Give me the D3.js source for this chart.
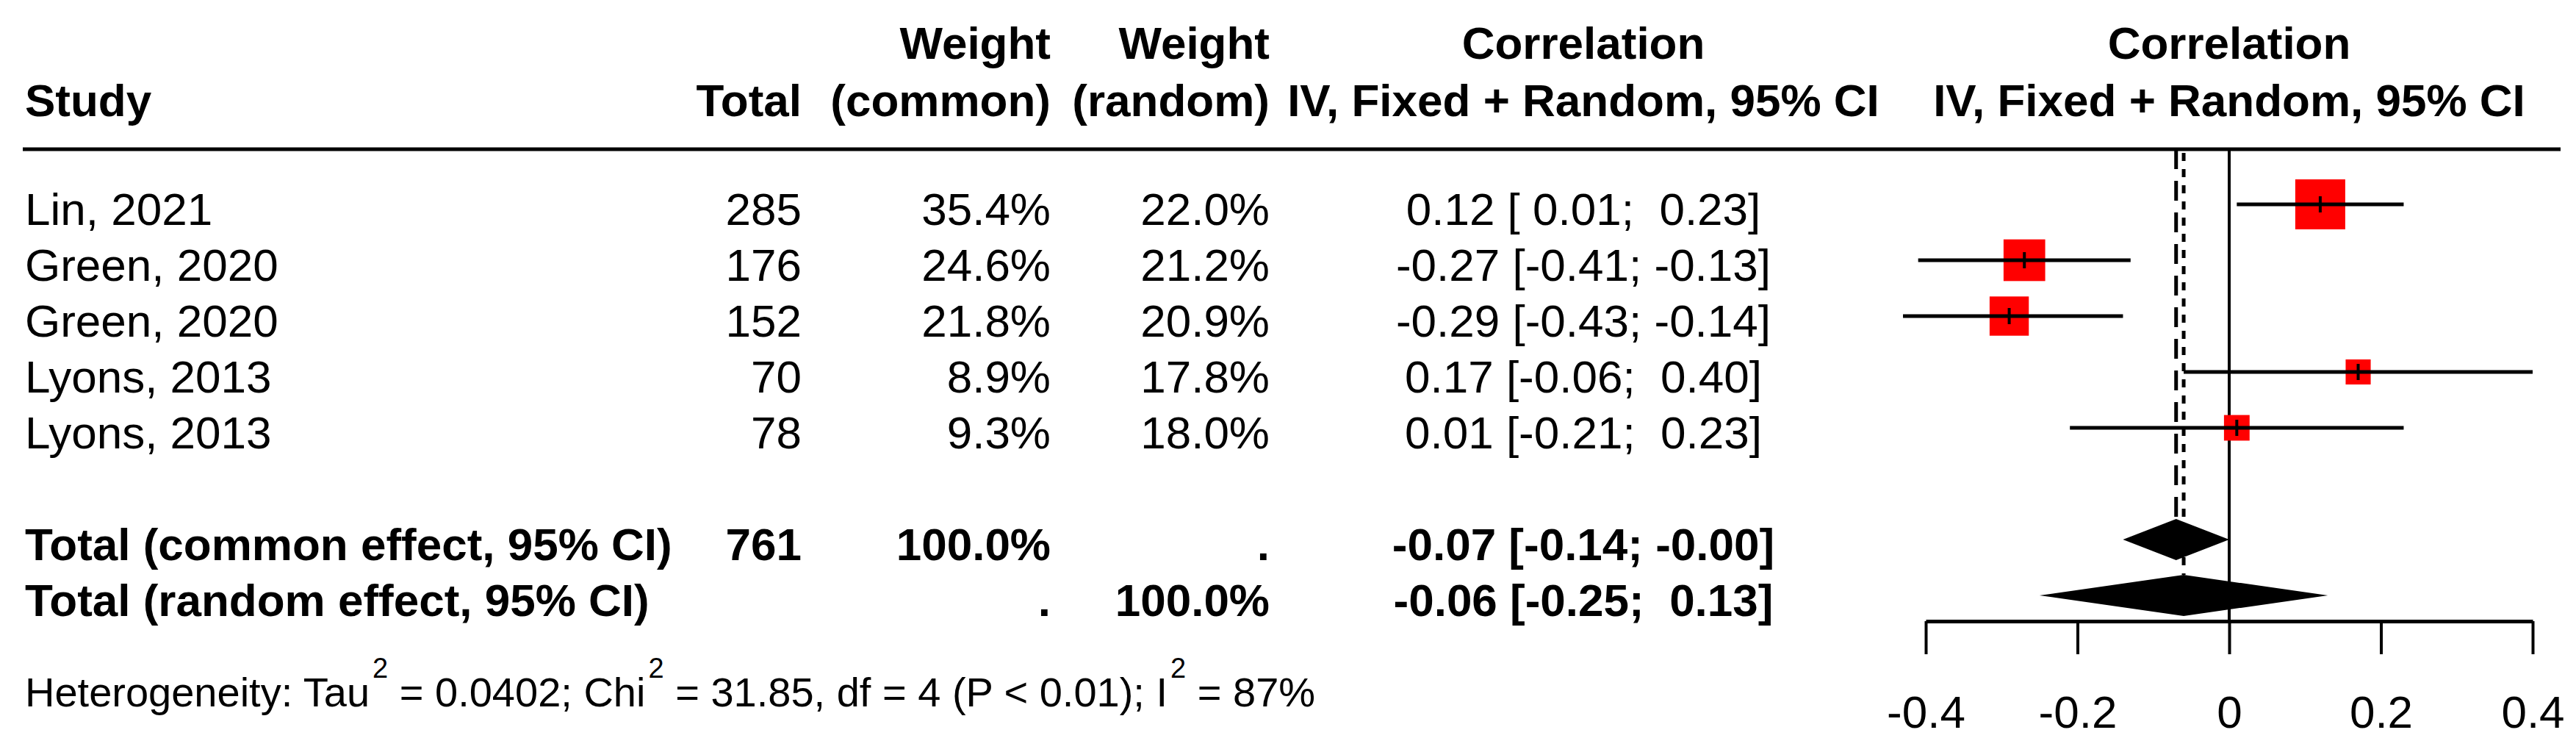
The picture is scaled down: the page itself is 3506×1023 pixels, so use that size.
<!DOCTYPE html>
<html>
<head>
<meta charset="utf-8">
<script src="https://cdn.jsdelivr.net/npm/d3@7"></script>
<style>
  html, body { margin: 0; padding: 0; background: #fff; }
  svg text { font-family: "Liberation Sans", Arial, sans-serif; white-space: pre; fill: #000; }
</style>
</head>
<body>
<div id="chart"></div>
<script>
// forest plot: correlation, common + random effects

const studies = ['Lin, 2021', 'Green, 2020', 'Green, 2020', 'Lyons, 2013', 'Lyons, 2013'];
const totals = [285, 176, 152, 70, 78];
const weightCommon = [35.4, 24.6, 21.8, 8.9, 9.3];
const weightRandom = [22.0, 21.2, 20.9, 17.8, 18.0];
const estimates = [0.12, -0.27, -0.29, 0.17, 0.01];
const lowers = [0.01, -0.41, -0.43, -0.06, -0.21];
const uppers = [0.23, -0.13, -0.14, 0.40, 0.23];

const summaryLabels = ['Total (common effect, 95% CI)', 'Total (random effect, 95% CI)'];
const summaryTotals = ['761', ''];
const summaryWCommon = ['100.0%', '.'];
const summaryWRandom = ['.', '100.0%'];
const summaryEst = [-0.07, -0.06];
const summaryLower = [-0.14, -0.25];
const summaryUpper = [-0.00, 0.13];

const tickValues = [-0.4, -0.2, 0, 0.2, 0.4];
const hetero = { tau2: '0.0402', chi2: '31.85', df: 4, p: '< 0.01', i2: '87%' };

const W = 3506, H = 1023;
const FS = 62;

const svg = d3.select('#chart').append('svg')
  .attr('width', W).attr('height', H)
  .attr('viewBox', `0 0 ${W} ${H}`);
svg.append('rect').attr('width', W).attr('height', H).attr('fill', '#fff');

// columns
const col = { study: 34, total: 1091, wCommon: 1430, wRandom: 1728, corr: 2155 };

const x = d3.scaleLinear().domain([-0.4, 0.4]).range([2621, 3447]);
// row index -> row centre (0..4 studies, 6 common, 7 random)
const y = d3.scaleLinear().domain([0, 7]).range([278, 810]);
const side = d3.scaleSqrt().domain([0, 35.4]).range([0, 68]);

const fmtBound = (v) => ((v < 0 || Object.is(v, -0)) ? '-' : ' ') + Math.abs(v).toFixed(2);
const ciText = (e, lo, hi) => `${e.toFixed(2)} [${fmtBound(lo)}; ${fmtBound(hi)}]`;

function txt(xp, yp, s, anchor, bold, size) {
  return svg.append('text')
    .attr('x', xp).attr('y', yp)
    .attr('text-anchor', anchor || 'start')
    .attr('font-size', size || FS)
    .attr('font-weight', bold ? 'bold' : 'normal')
    .text(s);
}

// header
const h1 = 80, h2 = 158;
txt(col.study, h2, 'Study', 'start', true);
txt(col.total, h2, 'Total', 'end', true);
txt(col.wCommon, h1, 'Weight', 'end', true);
txt(col.wCommon, h2, '(common)', 'end', true);
txt(col.wRandom, h1, 'Weight', 'end', true);
txt(col.wRandom, h2, '(random)', 'end', true);
txt(col.corr, h1, 'Correlation', 'middle', true);
txt(col.corr, h2, 'IV, Fixed + Random, 95% CI', 'middle', true);
txt(x(0), h1, 'Correlation', 'middle', true);
txt(x(0), h2, 'IV, Fixed + Random, 95% CI', 'middle', true);

const ruleY = 203;
svg.append('line')
  .attr('x1', 31).attr('x2', 3485).attr('y1', ruleY).attr('y2', ruleY)
  .attr('stroke', '#000').attr('stroke-width', 5);

const axisY = 845;

// reference lines
svg.append('line')
  .attr('x1', x(0)).attr('x2', x(0)).attr('y1', ruleY).attr('y2', axisY)
  .attr('stroke', '#000').attr('stroke-width', 4);

const diamondHalf = 28;
svg.append('line')
  .attr('x1', x(summaryEst[0])).attr('x2', x(summaryEst[0]))
  .attr('y1', ruleY).attr('y2', y(6) - diamondHalf)
  .attr('stroke', '#000').attr('stroke-width', 5)
  .attr('stroke-dasharray', '27 16');
svg.append('line')
  .attr('x1', x(summaryEst[1])).attr('x2', x(summaryEst[1]))
  .attr('y1', ruleY + 5).attr('y2', y(7) - diamondHalf)
  .attr('stroke', '#000').attr('stroke-width', 5)
  .attr('stroke-dasharray', '11 11');

// study rows
const base = 28;
studies.forEach((s, i) => {
  const cy = y(i);
  txt(col.study, cy + base, s, 'start');
  txt(col.total, cy + base, String(totals[i]), 'end');
  txt(col.wCommon, cy + base, weightCommon[i].toFixed(1) + '%', 'end');
  txt(col.wRandom, cy + base, weightRandom[i].toFixed(1) + '%', 'end');
  txt(col.corr, cy + base, ciText(estimates[i], lowers[i], uppers[i]), 'middle');

  const sz = side(weightCommon[i]);
  svg.append('rect')
    .attr('x', x(estimates[i]) - sz / 2).attr('y', cy - sz / 2)
    .attr('width', sz).attr('height', sz)
    .attr('fill', '#ff0000');
  svg.append('line')
    .attr('x1', x(lowers[i])).attr('x2', x(uppers[i]))
    .attr('y1', cy).attr('y2', cy)
    .attr('stroke', '#000').attr('stroke-width', 5);
  svg.append('line')
    .attr('x1', x(estimates[i])).attr('x2', x(estimates[i]))
    .attr('y1', cy - 11).attr('y2', cy + 11)
    .attr('stroke', '#000').attr('stroke-width', 4);
});

// summary rows
summaryLabels.forEach((s, j) => {
  const cy = y(6 + j);
  txt(col.study, cy + base, s, 'start', true);
  txt(col.total, cy + base, summaryTotals[j], 'end', true);
  txt(col.wCommon, cy + base, summaryWCommon[j], 'end', true);
  txt(col.wRandom, cy + base, summaryWRandom[j], 'end', true);
  txt(col.corr, cy + base, ciText(summaryEst[j], summaryLower[j], summaryUpper[j]), 'middle', true);

  const pts = [
    [x(summaryLower[j]), cy],
    [x(summaryEst[j]), cy - diamondHalf],
    [x(summaryUpper[j]), cy],
    [x(summaryEst[j]), cy + diamondHalf]
  ];
  svg.append('polygon')
    .attr('points', pts.map((p) => p.join(',')).join(' '))
    .attr('fill', '#000');
});

// heterogeneity line with superscripts
const hs = 56;
const ht = svg.append('text')
  .attr('x', col.study).attr('y', 922)
  .attr('font-size', hs);
const parts = [
  ['Heterogeneity: Tau', false], ['2', true],
  [` = ${hetero.tau2}; Chi`, false], ['2', true],
  [` = ${hetero.chi2}, df = ${hetero.df} (P ${hetero.p}); I`, false], ['2', true],
  [` = ${hetero.i2}`, false]
];
parts.forEach(([s, sup]) => {
  if (sup) {
    ht.append('tspan').attr('dx', 4).attr('dy', -39).attr('font-size', 38).text(s);
  } else {
    ht.append('tspan').attr('dy', ht.node().childNodes.length ? 39 : 0).text(s);
  }
});

// axis
const axis = d3.axisBottom(x)
  .tickValues(tickValues)
  .tickSize(45)
  .tickSizeOuter(0)
  .tickPadding(56)
  .tickFormat((d) => String(d));

const gAxis = svg.append('g')
  .attr('transform', `translate(0,${axisY})`)
  .call(axis);
gAxis.select('.domain').attr('stroke', '#000').attr('stroke-width', 5);
gAxis.selectAll('.tick line').attr('stroke', '#000').attr('stroke-width', 4);
gAxis.selectAll('.tick text')
  .attr('font-size', FS)
  .attr('font-family', '"Liberation Sans", Arial, sans-serif')
  .attr('fill', '#000');
</script>
</body>
</html>
